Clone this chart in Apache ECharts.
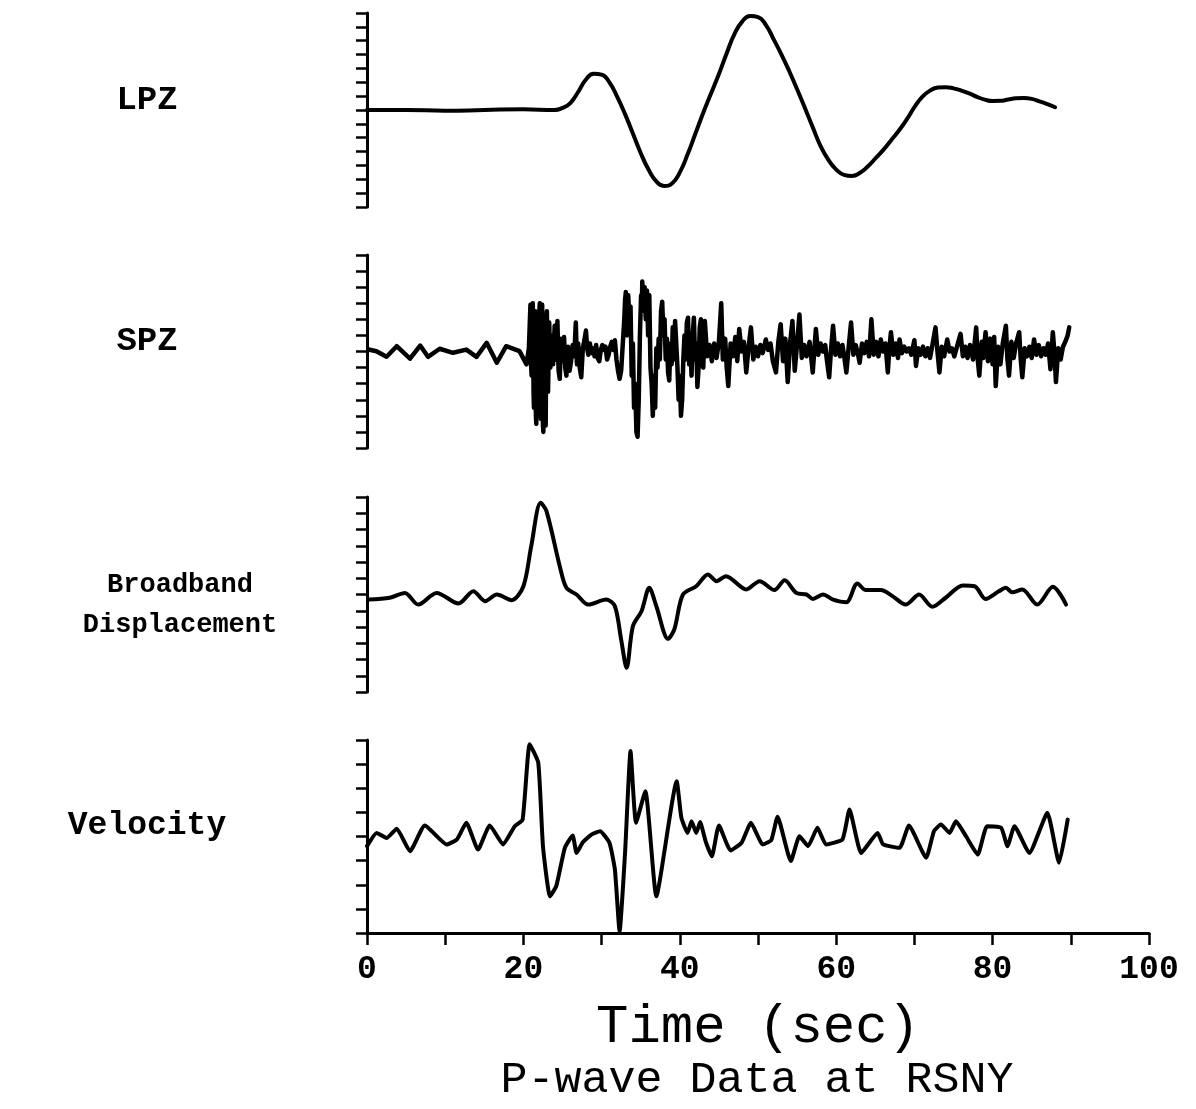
<!DOCTYPE html>
<html>
<head>
<meta charset="utf-8">
<title>P-wave Data at RSNY</title>
<script src="https://cdn.jsdelivr.net/npm/echarts@6/dist/echarts.min.js"></script>
<style>
  html, body { margin: 0; padding: 0; background: #fff; }
  #main { width: 1196px; height: 1109px; }
</style>
</head>
<body>
<div id="main"></div>
<script>
// -- data: [time (sec), amplitude in tick units] --
const lpz = [[0, 0], [5, 0], [10, -0.05], [15, 0], [20, 0.05], [24, 0], [25, 0.15], [26, 0.5],
  [27, 1.3], [28, 2.2], [29, 2.62], [30, 2.55], [31, 2.0], [32, 0.95], [33, -0.3], [34, -1.7],
  [35, -3.1], [36, -4.3], [37, -5.15], [38, -5.48], [39, -5.3], [40, -4.5], [41, -3.2], [42, -1.7],
  [43, -0.2], [44, 1.2], [45, 2.6], [46, 4.1], [47, 5.5], [48, 6.4], [49, 6.78], [50, 6.7],
  [51, 6.15], [52, 5.1], [53, 4.0], [54, 2.8], [55, 1.5], [56, 0.15], [57, -1.25], [58, -2.6],
  [59, -3.6], [60, -4.3], [61, -4.68], [62, -4.76], [63, -4.55], [64, -4.1], [65, -3.5], [66, -2.9],
  [67, -2.2], [68, -1.5], [69, -0.7], [70, 0.2], [71, 0.95], [72, 1.4], [73, 1.62], [74, 1.65],
  [75, 1.56], [76, 1.4], [77, 1.2], [78, 0.95], [79, 0.75], [80, 0.65], [81, 0.66], [82, 0.76],
  [83, 0.84], [84, 0.86], [85, 0.8], [86, 0.62], [87, 0.42], [88, 0.2]];

const spz = [[0.2, 0.12], [1.2, 0.02], [2.5, -0.33], [3.8, 0.33], [5.5, -0.45], [6.8, 0.37], [7.8, -0.33],
  [9.3, 0.17], [11.0, -0.08], [12.7, 0.12], [14.0, -0.33], [15.3, 0.54], [16.6, -0.7], [17.8, 0.33],
  [19.5, 0.02], [20.4, -0.8], [20.7, 0.2], [20.9, 2.9], [21.0, -1.0], [21.05, -1.5], [21.15, 2.6],
  [21.2, 3.0], [21.3, -2.5], [21.35, -3.5], [21.45, 2.0], [21.5, 2.5], [21.6, -4.0], [21.65, -4.5],
  [21.75, 1.6], [21.8, 2.0], [21.9, -3.2], [21.95, -3.8], [22.05, 2.6], [22.1, 3.0], [22.2, -3.8],
  [22.25, -4.2], [22.35, 2.5], [22.4, 2.9], [22.5, -4.6], [22.55, -5.0], [22.65, 1.0], [22.7, 1.5],
  [22.8, -4.0], [22.85, -4.6], [22.95, 2.0], [23.0, 2.5], [23.15, -2.5], [23.3, 1.8], [23.45, -1.0],
  [23.6, 1.0], [23.8, -0.8], [24.0, 1.6], [24.2, -0.5], [24.35, 1.9], [24.5, -1.2], [24.65, -1.7],
  [24.8, 0.8], [25.0, -0.6], [25.2, 0.9], [25.35, -1.0], [25.5, -1.5], [25.7, 0.3], [25.9, -1.2],
  [26.1, -0.6], [26.3, 0.4], [26.5, -0.3], [26.7, 1.8], [26.85, -0.8], [27.0, 0.5], [27.2, -1.0],
  [27.4, -1.6], [27.6, 0.2], [27.8, 0.7], [28.0, 1.3], [28.15, 0.2], [28.3, -0.2], [28.5, 0.5],
  [28.7, -0.1], [28.9, 0.2], [29.1, -0.3], [29.3, 0.4], [29.5, -0.4], [29.7, -0.6], [29.9, 0.1],
  [30.1, 0.4], [30.3, 0.1], [30.5, 0.3], [30.7, -0.5], [30.9, -0.2], [31.1, 0.3], [31.3, 0.6],
  [31.5, 0.1], [31.7, 0.7], [31.9, -0.5], [32.1, -1.2], [32.3, -1.7], [32.5, -1.2], [32.7, 0.4],
  [32.9, 2.0], [33.0, 3.2], [33.1, 3.7], [33.2, 1.5], [33.25, 1.0], [33.35, 3.2], [33.4, 3.5],
  [33.55, 2.2], [33.7, 2.8], [33.85, -1.5], [34.0, 0.5], [34.15, -3.5], [34.3, -2.0], [34.45, -5.0],
  [34.6, -5.3], [34.75, -3.0], [34.9, 1.0], [35.05, 3.5], [35.15, 2.5], [35.2, 4.35], [35.3, 2.8],
  [35.35, 3.0], [35.45, 3.6], [35.5, 4.0], [35.6, 2.5], [35.65, 2.0], [35.75, 3.5], [35.8, 3.8],
  [35.95, 1.0], [36.1, 3.5], [36.25, -1.0], [36.4, -2.0], [36.55, -4.0], [36.7, -1.5], [36.85, -3.5],
  [37.0, 0.2], [37.15, -1.0], [37.3, 0.8], [37.45, -0.5], [37.6, 2.5], [37.75, 3.1], [37.9, 1.0],
  [38.05, 2.0], [38.2, -0.5], [38.35, 0.8], [38.5, -1.3], [38.65, -1.8], [38.8, 0.5], [38.95, -0.8],
  [39.1, 1.5], [39.25, -0.5], [39.4, 1.9], [39.55, 2.0], [39.7, -1.0], [39.85, -3.0], [40.0, -1.5],
  [40.15, -4.0], [40.3, -3.0], [40.45, -0.5], [40.6, 1.0], [40.75, -0.5], [40.9, 1.8], [41.05, 2.1],
  [41.2, -0.8], [41.35, 0.5], [41.5, -1.5], [41.65, 1.0], [41.8, 2.1], [41.95, -0.5], [42.1, 0.5],
  [42.25, -2.2], [42.4, -1.0], [42.55, 1.5], [42.7, 2.0], [42.85, -0.5], [43.0, -1.0], [43.2, 1.9],
  [43.5, -0.3], [43.8, 0.4], [44.1, -0.6], [44.4, 0.5], [44.7, -0.4], [45.0, 0.6], [45.3, 3.0],
  [45.5, -0.5], [45.8, 0.8], [46.0, -1.0], [46.2, -2.15], [46.5, 0.5], [46.8, -0.3], [47.1, 0.9],
  [47.35, -0.6], [47.6, 1.4], [47.9, 0.0], [48.2, 0.6], [48.5, -1.3], [48.8, 0.3], [49.1, 1.5],
  [49.4, -0.5], [49.7, 0.3], [50.0, -0.3], [50.3, 0.4], [50.6, -0.1], [51.0, 0.75], [51.3, 0.1],
  [51.6, 0.5], [51.9, -0.6], [52.3, -1.3], [52.6, 0.6], [52.9, 1.7], [53.2, -0.6], [53.5, 0.8],
  [53.8, -1.9], [54.1, 0.5], [54.4, 1.9], [54.7, -1.2], [55.0, 0.5], [55.3, 2.3], [55.6, -0.4],
  [55.9, 0.4], [56.2, -0.3], [56.6, 0.6], [57.0, -1.3], [57.4, 1.4], [57.7, -0.2], [58.0, 0.5],
  [58.3, 0.0], [58.6, 0.4], [58.8, -0.5], [59.1, -1.6], [59.35, 0.2], [59.6, 1.6], [59.9, -0.2],
  [60.2, 0.5], [60.5, -0.3], [60.8, 0.4], [61.05, -0.4], [61.3, -1.3], [61.6, 0.3], [61.9, 1.8],
  [62.2, -0.2], [62.5, 0.4], [62.8, -0.2], [63.0, -0.7], [63.3, 0.5], [63.6, -0.1], [63.9, 0.6],
  [64.2, -0.3], [64.5, 2.0], [64.8, -0.2], [65.1, 0.6], [65.4, -0.3], [65.7, 0.75], [66.0, 0.0],
  [66.3, 0.5], [66.6, -1.3], [66.8, 0.2], [67.0, 1.2], [67.3, -0.2], [67.6, 0.5], [67.9, -0.4],
  [68.1, 0.75], [68.4, -0.1], [68.7, 0.3], [69.0, 0.0], [69.3, 0.2], [69.6, -0.2], [70.0, 0.7],
  [70.2, -0.9], [70.5, 0.2], [70.8, -0.2], [71.1, 0.3], [71.4, -0.3], [71.7, 0.2], [72.0, -0.4],
  [72.3, 0.4], [72.7, 1.5], [72.95, 0.0], [73.2, -1.3], [73.5, 0.3], [73.8, -0.3], [74.2, 0.75],
  [74.5, 0.0], [74.8, 0.2], [75.1, -0.3], [75.5, 0.4], [75.9, 1.1], [76.2, -0.3], [76.5, 0.3],
  [76.8, -0.4], [77.1, 0.4], [77.5, -0.5], [77.9, 1.5], [78.1, -0.5], [78.3, -1.5], [78.6, 0.6],
  [78.8, -0.4], [79.1, 1.2], [79.4, -0.6], [79.7, 0.8], [80.0, -0.8], [80.2, 0.9], [80.4, -2.15],
  [80.7, 0.3], [81.0, -0.8], [81.3, 0.5], [81.7, 1.6], [81.9, -0.5], [82.1, -1.5], [82.4, 0.6],
  [82.7, -0.4], [83.0, 0.5], [83.4, 1.2], [83.6, -0.5], [83.8, -1.6], [84.1, 0.2], [84.4, -0.3],
  [84.7, 0.3], [85.0, -0.4], [85.3, 0.75], [85.6, -0.2], [85.9, 0.4], [86.2, -0.3], [86.5, 0.2],
  [86.8, -0.2], [87.1, 0.5], [87.4, -1.1], [87.7, 1.2], [87.9, 0.0], [88.1, -1.9], [88.4, 0.2],
  [88.7, -0.5], [89.0, 0.3], [89.3, 0.6], [89.6, 1.0], [89.8, 1.5]];

const broadband = [[0.2, -0.31], [2.9, -0.2], [4.85, 0.1], [6.55, -0.62], [8.9, 0.1], [11.7, -0.55],
  [13.6, 0.2], [15.1, -0.41], [16.6, 0], [18.5, -0.35], [20.0, 0.51], [21.0, 2.97], [22.2, 5.64],
  [22.95, 5.13], [24.65, 1.74], [25.5, 0.41], [26.8, 0], [28.3, -0.62], [30.6, -0.31], [31.7, -0.72],
  [32.5, -2.77], [33.2, -4.51], [34.0, -1.95], [35.1, -1.03], [36.1, 0.41], [37.0, -0.72], [38.5, -2.73],
  [39.3, -2.15], [40.4, 0], [42.1, 0.51], [43.6, 1.23], [44.7, 0.82], [45.9, 1.13], [48.5, 0.31],
  [50.2, 0.82], [52.1, 0.27], [53.4, 0.88], [54.9, 0.1], [56.2, 0], [57.0, -0.27], [58.3, 0],
  [59.6, -0.31], [61.3, -0.47], [62.7, 0.68], [63.8, 0.27], [65.7, 0.27], [67.2, -0.1], [68.9, -0.62],
  [70.6, 0], [72.3, -0.76], [74.0, -0.2], [76.2, 0.55], [77.7, 0.51], [79.1, -0.27], [80.8, 0.2],
  [81.7, 0.41], [82.5, 0.14], [83.8, 0.31], [85.7, -0.62], [87.7, 0.47], [89.4, -0.62]];

const velocity = [[0, -0.4], [1.24, 0.15], [2.5, -0.06], [3.8, 0.32], [5.5, -0.61], [7.4, 0.46],
  [10.2, -0.33], [11.5, -0.12], [12.7, 0.57], [14.2, -0.54], [15.7, 0.46], [17.4, -0.33], [18.9, 0.43],
  [19.9, 0.7], [20.8, 3.82], [21.9, 3.06], [22.5, -0.4], [23.4, -2.48], [24.2, -2.06], [25.3, -0.47],
  [26.3, 0.04], [26.8, -0.68], [27.6, -0.24], [28.7, 0.08], [29.8, 0.22], [31.0, -0.26], [31.7, -1.37],
  [32.3, -3.93], [33.0, -0.68], [33.7, 3.54], [34.4, 0.57], [35.6, 1.88], [37.0, -2.48], [39.6, 2.29],
  [40.2, 0.78], [41.0, 0.15], [41.5, 0.63], [42.1, 0.15], [42.6, 0.6], [43.3, -0.2], [44.1, -0.82],
  [45.0, 0.46], [46.5, -0.58], [47.9, -0.26], [49.1, 0.57], [50.6, -0.33], [51.7, -0.15], [52.5, 0.82],
  [54.2, -1.02], [55.3, 0.01], [56.4, -0.4], [57.6, 0.36], [58.7, -0.33], [60.8, -0.12], [61.7, 1.12],
  [63.2, -0.68], [65.3, 0.15], [66.0, -0.33], [68.1, -0.47], [69.3, 0.46], [71.5, -0.88], [72.5, 0.22],
  [73.4, 0.5], [74.5, 0.15], [75.3, 0.63], [76.6, 0.01], [78.1, -0.75], [79.3, 0.43], [81.1, 0.36],
  [81.9, -0.4], [82.8, 0.43], [84.7, -0.68], [87.0, 0.98], [88.5, -1.09], [89.6, 0.7]];

const panelNames = ['LPZ', 'SPZ', 'Broadband\nDisplacement', 'Velocity'];
const yRanges = [[-7, 7], [-6, 6], [-6, 6], [-4, 4]];
const timeTicks = [0, 100, 10];   // min, max, tick step (labels every 20)
const xLabel = 'Time (sec)';
const subTitle = 'P-wave Data at RSNY';

// -- layout --
const gridTops = [13, 255, 497, 740];
const gridHeights = [194, 193, 195, 193];
const nameSpots = [[147, 100, 'bold 34px'], [147, 341, 'bold 34px'], [180, 605, 'bold 27px'], [147, 826, 'bold 33px']];
const FONT = '"Liberation Mono", "DejaVu Sans Mono", monospace';

let traces = [lpz, spz, broadband, velocity];
let smoothing = [0.5, false, 0.3, 0.15];
let widths = [4, 4.5, 4, 4];

let option = {
  backgroundColor: '#fff',
  animation: false,
  grid: gridTops.map((t, i) => ({left: 367, right: 47, top: t, height: gridHeights[i]})),
  xAxis: traces.map((d, i) => ({
    type: 'value',
    gridIndex: i,
    min: timeTicks[0],
    max: timeTicks[1],
    interval: timeTicks[2],
    show: i === 3,
    name: i === 3 ? xLabel : '',
    nameLocation: 'middle',
    nameGap: 68,
    nameTextStyle: {color: '#000', fontSize: 54, fontFamily: FONT},
    axisLine: {onZero: false, lineStyle: {color: '#000', width: 3}},
    axisTick: {inside: false, length: 12, lineStyle: {color: '#000', width: 2.5}},
    axisLabel: {
      margin: 20, color: '#000', fontSize: 33, fontWeight: 'bold', fontFamily: FONT,
      formatter: v => (v % 20 === 0 ? String(v) : '')
    },
    splitLine: {show: false}
  })),
  yAxis: yRanges.map((r, i) => ({
    type: 'value',
    gridIndex: i,
    min: r[0],
    max: r[1],
    interval: 1,
    axisLine: {show: true, onZero: false, lineStyle: {color: '#000', width: 3}},
    axisTick: {show: true, inside: false, length: 11, lineStyle: {color: '#000', width: 2.5}},
    axisLabel: {show: false},
    splitLine: {show: false}
  })),
  series: traces.map((d, i) => ({
    type: 'line',
    xAxisIndex: i,
    yAxisIndex: i,
    data: d,
    smooth: smoothing[i],
    showSymbol: false,
    lineStyle: {color: '#000', width: widths[i], join: 'round', cap: 'round'}
  })),
  graphic: panelNames.map((n, i) => ({
    type: 'text',
    x: nameSpots[i][0],
    y: nameSpots[i][1],
    style: {
      text: n,
      font: nameSpots[i][2] + ' ' + FONT,
      lineHeight: 40,
      fill: '#000',
      align: 'center', verticalAlign: 'middle',
      textAlign: 'center', textVerticalAlign: 'middle'
    }
  })).concat([{
    type: 'text',
    x: 757,
    y: 1080,
    style: {
      text: subTitle,
      font: '45px ' + FONT,
      fill: '#000',
      align: 'center', verticalAlign: 'middle',
      textAlign: 'center', textVerticalAlign: 'middle'
    }
  }])
};

let myChart = echarts.init(document.getElementById('main'));
myChart.setOption(option);
</script>
</body>
</html>
